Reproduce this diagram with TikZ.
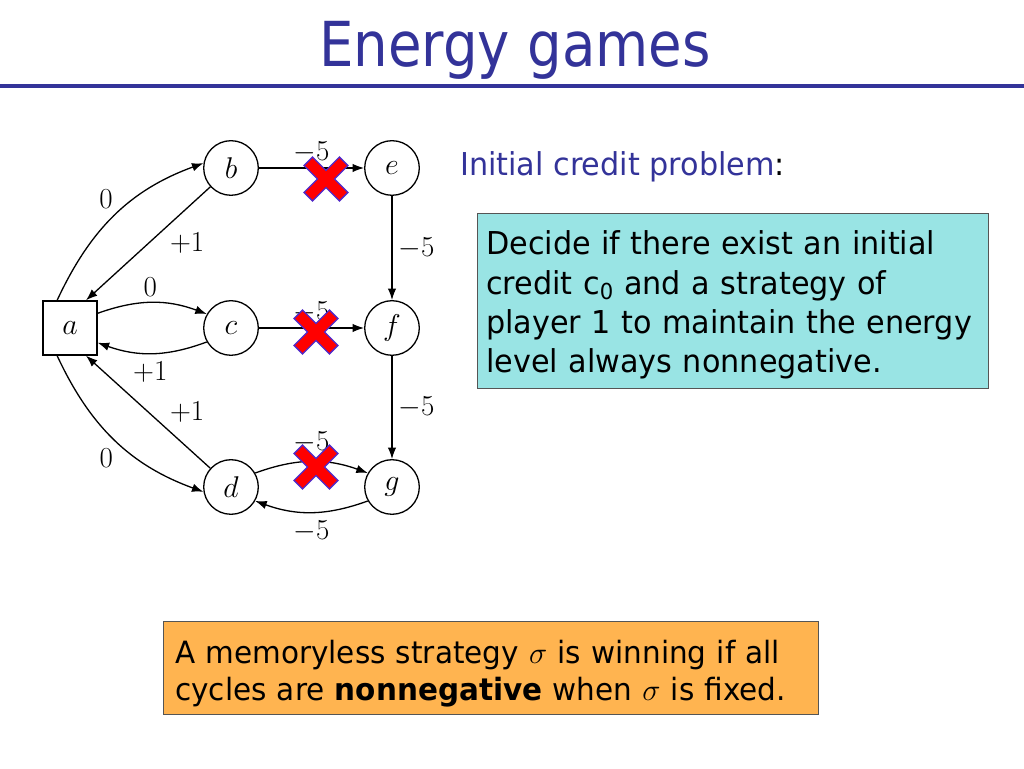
\RequirePackage{fix-cm}
\documentclass[tikz,border=0pt]{standalone}
\usepackage{fontspec}
\setmainfont{DejaVu Sans}[FakeStretch=0.96]
\newfontfamily\titlefont{DejaVu Sans}[FakeStretch=0.88]
\usetikzlibrary{arrows.meta}
\definecolor{titleblue}{RGB}{51,51,153}
\definecolor{cyanfill}{RGB}{153,228,228}
\definecolor{orangefill}{RGB}{255,180,80}
\definecolor{boxline}{RGB}{85,85,85}
\definecolor{crossline}{RGB}{80,40,200}
\definecolor{crossred}{RGB}{255,0,0}
\tikzset{
  st/.style={circle, draw, line width=1.3pt, minimum size=54.6pt, inner sep=0pt, font=\fontsize{30}{30}\selectfont},
  pl/.style={rectangle, draw, line width=1.3pt, minimum size=54pt, inner sep=0pt, font=\fontsize{30}{30}\selectfont},
  edge/.style={line width=1.3pt, -{Latex[length=11.5pt,width=8.5pt]}},
  lbl/.style={font=\fontsize{29}{29}\selectfont, inner sep=1pt},
  bodytext/.style={inner sep=0pt, font=\fontsize{31.5}{39.3}\selectfont},
  redcross/.pic={\filldraw[rotate=45, fill=crossred, draw=crossline, line width=1.3pt]
     (25,6) -- (6,6) -- (6,25) -- (-6,25) -- (-6,6) -- (-25,6) -- (-25,-6) -- (-6,-6)
     -- (-6,-25) -- (6,-25) -- (6,-6) -- (25,-6) -- cycle;}
}
\begin{document}
\begin{tikzpicture}[x=1pt,y=1pt]
\useasboundingbox (0,0) rectangle (1024,768);
\fill[white] (0,0) rectangle (1024,768);
% title
\node[anchor=base, inner sep=0pt, text=titleblue, font=\titlefont\fontsize{62}{62}\selectfont] (title) at (515,701) {Energy games};
\draw[titleblue, line width=3.5pt] (0,682) -- (1024,682);
% nodes
\node[pl] (a) at (70,440) {$a$};
\node[st] (b) at (231,600) {$b$};
\node[st] (c) at (231,440) {$c$};
\node[st] (d) at (231,281) {$d$};
\node[st] (e) at (392,600) {$e$};
\node[st] (f) at (392,440) {$f$};
\node[st] (g) at (392,281) {$g$};
% edges
\draw[edge] (a.115) to[out=65,in=200] node[lbl,xshift=-9pt,yshift=15.5pt]{$0$} (b.170);
\draw[edge] (b) -- node[lbl,xshift=39pt,yshift=1pt]{$+1$} (a.60);
\draw[edge] (a.28) to[bend left=20] node[lbl,xshift=-2pt,yshift=16pt]{$0$} (c.150);
\draw[edge] (c.210) to[bend left=20] node[lbl,xshift=-2pt,yshift=-19pt]{$+1$} (a.-28);
\draw[edge] (d) -- node[lbl,xshift=39pt,yshift=-0.5pt]{$+1$} (a.-60);
\draw[edge] (a.-115) to[out=-65,in=160] node[lbl,xshift=-9pt,yshift=-18pt]{$0$} (d.190);
\draw[edge] (b) -- node[lbl,yshift=16pt]{$-5$} (e);
\draw[edge] (c) -- node[lbl,yshift=16pt]{$-5$} (f);
\draw[edge] (e) -- node[lbl,xshift=24.5pt]{$-5$} (f);
\draw[edge] (f) -- node[lbl,xshift=24.5pt]{$-5$} (g);
\draw[edge] (d.30) to[bend left=20] node[lbl,yshift=19pt]{$-5$} (g.150);
\draw[edge] (g.210) to[bend left=20] node[lbl,yshift=-19pt]{$-5$} (d.-30);
% crosses
\pic at (326,589) {redcross};
\pic at (316,436) {redcross};
\pic at (316,301) {redcross};
% right text
\node[bodytext, anchor=base west] (icp) at (460,592) {\textcolor{titleblue}{Initial credit problem}:};
\node[draw=boxline, line width=1.3pt, fill=cyanfill, minimum width=511pt, minimum height=175pt, anchor=south west, inner sep=0pt] (box1) at (477,379) {};
\node[bodytext, anchor=base west, text width=495pt, align=left] (box1text) at (486,513)
  {Decide if there exist an initial\\credit c\textsubscript{0} and a strategy of\\player 1 to maintain the energy\\level always nonnegative.};
% bottom box
\node[draw=boxline, line width=1.3pt, fill=orangefill, minimum width=655pt, minimum height=93pt, anchor=south west, inner sep=0pt] (box2) at (163,53) {};
\node[bodytext, anchor=base west, text width=640pt, align=left, font=\fontsize{30.7}{37}\selectfont] (box2text) at (175,105)
  {A memoryless strategy $\sigma$ is winning if all\\cycles are \textbf{nonnegative} when $\sigma$ is fixed.};
\end{tikzpicture}
\end{document}
